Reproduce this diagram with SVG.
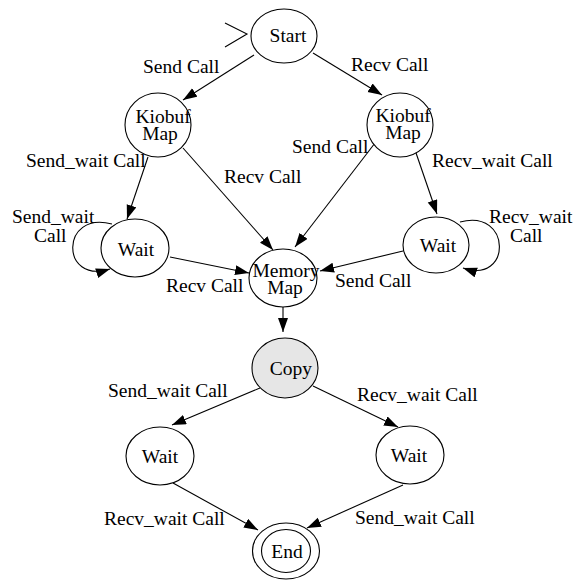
<svg xmlns="http://www.w3.org/2000/svg" width="586" height="581" viewBox="0 0 586 581">
<defs>
<marker id="ah" markerUnits="userSpaceOnUse" markerWidth="15" markerHeight="11" refX="14" refY="5" orient="auto">
<path d="M0,0 L14,5 L0,10 z" fill="#000"/>
</marker>
<style>
.n{fill:#fff;stroke:#000;stroke-width:1.1}
.g{fill:#e6e6e6;stroke:#000;stroke-width:1.1}
.t{font-family:"Liberation Serif","Times New Roman",serif;font-size:19.5px;fill:#000}
.s{font-size:18px}
.m{text-anchor:middle}
.e{fill:none;stroke:#000;stroke-width:1.1;marker-end:url(#ah)}
</style>
</defs>
<rect width="586" height="581" fill="#fff"/>
<g id="connectors">
<path d="M225,23 L247,34 L225,47" fill="none" stroke="#000" stroke-width="1.1"/>
<path class="e" d="M254,55 L183,100"/>
<path class="e" d="M313,53 L382,95"/>
<path class="e" d="M148,157 L127,219"/>
<path class="e" d="M183,148 L273,250"/>
<path class="e" d="M112,224 C60,210 60,285 110,269"/>
<path class="e" d="M170,257 L249,273"/>
<path class="e" d="M415,150 L437,214"/>
<path class="e" d="M375,143 L295,247"/>
<path class="e" d="M460,222 C512,208 512,285 463,268"/>
<path class="e" d="M403,251 L320,271"/>
<path class="e" d="M283,307 L283,332"/>
<path class="e" d="M260,388 L172,425"/>
<path class="e" d="M313,386 L398,427"/>
<path class="e" d="M173,483 L258,530"/>
<path class="e" d="M403,485 L307,528"/>
<text class="t" x="143" y="73">Send Call</text>
<text class="t" x="351" y="71">Recv Call</text>
<text class="t" x="26" y="167">Send_wait Call</text>
<text class="t" x="224" y="183">Recv Call</text>
<text class="t" x="292" y="153">Send Call</text>
<text class="t" x="432" y="167">Recv_wait Call</text>
<text class="t" x="12" y="223">Send_wait</text>
<text class="t" x="34" y="242">Call</text>
<text class="t" x="489" y="223">Recv_wait</text>
<text class="t" x="510" y="242">Call</text>
<text class="t" x="166" y="292">Recv Call</text>
<text class="t" x="335" y="287">Send Call</text>
<text class="t" x="108" y="397">Send_wait Call</text>
<text class="t" x="357" y="401">Recv_wait Call</text>
<text class="t" x="104" y="525">Recv_wait Call</text>
<text class="t" x="355" y="524">Send_wait Call</text>
</g>
<g id="start">
<ellipse class="n" cx="284" cy="36" rx="33" ry="27"/>
<text class="t m" x="288" y="42">Start</text>
</g>
<g id="kiobuf-left">
<ellipse class="n" cx="158" cy="125" rx="33" ry="32"/>
<text class="t m" x="163" y="123">Kiobuf</text>
<text class="t m" x="160" y="140">Map</text>
</g>
<g id="kiobuf-right">
<ellipse class="n" cx="400" cy="125" rx="33" ry="32"/>
<text class="t m" x="403" y="122">Kiobuf</text>
<text class="t m" x="403" y="139">Map</text>
</g>
<g id="wait-left">
<ellipse class="n" cx="135" cy="248" rx="34" ry="29"/>
<text class="t m" x="136" y="256">Wait</text>
</g>
<g id="wait-right">
<ellipse class="n" cx="436" cy="245" rx="33" ry="28"/>
<text class="t m" x="438" y="252">Wait</text>
</g>
<g id="memory-map">
<ellipse class="n" cx="283" cy="278" rx="34" ry="29"/>
<text class="t m" x="286" y="277">Memory</text>
<text class="t m" x="285" y="294">Map</text>
</g>
<g id="copy">
<ellipse class="g" cx="285" cy="368" rx="33" ry="30"/>
<text class="t m" x="291" y="375">Copy</text>
</g>
<g id="wait-lower-left">
<ellipse class="n" cx="160" cy="456" rx="34" ry="29"/>
<text class="t m" x="160" y="463">Wait</text>
</g>
<g id="wait-lower-right">
<ellipse class="n" cx="410" cy="455" rx="34" ry="29"/>
<text class="t m" x="409" y="462">Wait</text>
</g>
<g id="end">
<ellipse class="n" cx="286" cy="551" rx="33.5" ry="28"/>
<ellipse class="n" cx="286" cy="551" rx="24.5" ry="21.5"/>
<text class="t m" x="287" y="558">End</text>
</g>
</svg>
